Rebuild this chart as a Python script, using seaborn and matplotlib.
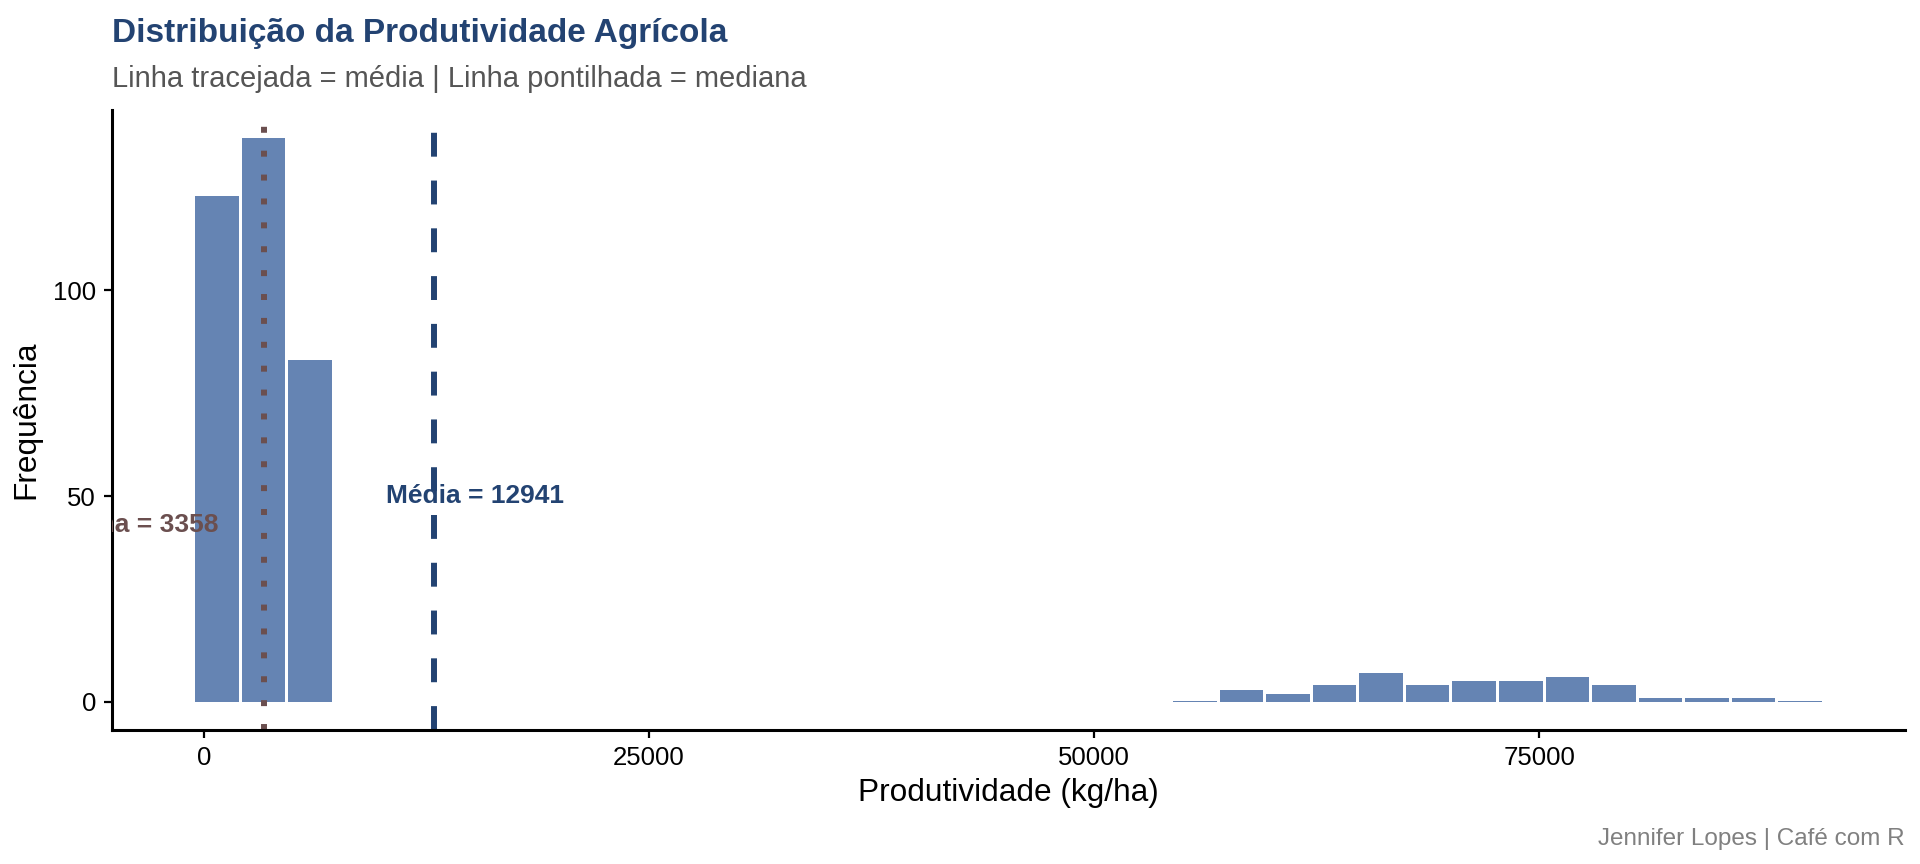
"""
Distribuição da Produtividade Agrícola
Histograma com linhas de média e mediana.
"""

import numpy as np
import pandas as pd
import matplotlib
matplotlib.use("Agg")
import matplotlib.pyplot as plt
import seaborn as sns

# ── Dados ─────────────────────────────────────
BIN_START = -589      # borda esquerda da primeira classe (kg/ha)
BIN_WIDTH = 2616      # largura de cada classe (kg/ha)
N_BINS    = 35

# frequência por classe (as classes 21 e 34 aparecem só como um traço fino)
freq = [123, 137, 83,
        0, 0, 0, 0, 0, 0, 0, 0, 0, 0, 0, 0, 0, 0, 0, 0, 0, 0,
        0.25, 3, 2, 4, 7, 4, 5, 5, 6, 4, 1, 1, 1, 0.25]

MEDIA   = 12941
MEDIANA = 3358

x_ticks = [0, 25000, 50000, 75000]
y_ticks = [0, 50, 100]

# ── Estilo ────────────────────────────────────
AZUL   = "#234372"
MARROM = "#6B4F4F"
BARRA  = "#6584B3"

sns.set_theme(style="ticks")
plt.rcParams["font.family"] = ["Liberation Sans", "DejaVu Sans"]

# ── Gráfico ───────────────────────────────────
edges   = BIN_START + BIN_WIDTH * np.arange(N_BINS + 1)
centers = edges[:-1] + BIN_WIDTH / 2
df = pd.DataFrame({"produtividade": centers, "freq": freq})

fig, ax = plt.subplots(figsize=(19.2, 8.64), dpi=100)
fig.subplots_adjust(left=0.0583, right=0.9922, top=0.8727, bottom=0.155)

sns.histplot(data=df, x="produtividade", weights="freq", bins=edges.tolist(),
             color=BARRA, alpha=1, linewidth=0, shrink=0.935, ax=ax)

ax.axvline(MEDIA, color=AZUL, lw=4.3, linestyle=(0, (4, 4)))
ax.axvline(MEDIANA, color=MARROM, lw=4.3, linestyle=(0, (1, 3)))

ax.text(MEDIA + 2300, 50, f"Média = {MEDIA}", ha="center", va="center",
        fontsize=19, fontweight="bold", color=AZUL, clip_on=True)
ax.text(MEDIANA - 8000, 43, f"Mediana = {MEDIANA}", ha="center", va="center",
        fontsize=19, fontweight="bold", color=MARROM, clip_on=True)

span = edges[-1] - edges[0]
ax.set_xlim(edges[0] - 0.05 * span, edges[-1] + 0.05 * span)
ax.set_ylim(-6.85, 143.85)
ax.set_xticks(x_ticks)
ax.set_yticks(y_ticks)
ax.set_xticklabels([str(t) for t in x_ticks])

ax.set_xlabel("Produtividade (kg/ha)", fontsize=22.8, color="black", labelpad=6)
ax.set_ylabel("Frequência", fontsize=22.8, color="black", labelpad=8)
ax.tick_params(length=5.5, width=1.6, labelsize=18.5, pad=6,
               colors="black")

sns.despine(ax=ax)
for s in ["left", "bottom"]:
    ax.spines[s].set_linewidth(2.2)
    ax.spines[s].set_color("black")

fig.text(112 / 1920, 1 - 42 / 864, "Distribuição da Produtividade Agrícola",
         fontsize=24, fontweight="bold", color=AZUL, va="baseline")
fig.text(112 / 1920, 1 - 87 / 864,
         "Linha tracejada = média | Linha pontilhada = mediana",
         fontsize=21, color="#555555", va="baseline")
fig.text(0.9922, 1 - 845 / 864, "Jennifer Lopes | Café com R",
         fontsize=17.5, color="#808080", ha="right", va="baseline")

fig.savefig("out.png", dpi=100)
